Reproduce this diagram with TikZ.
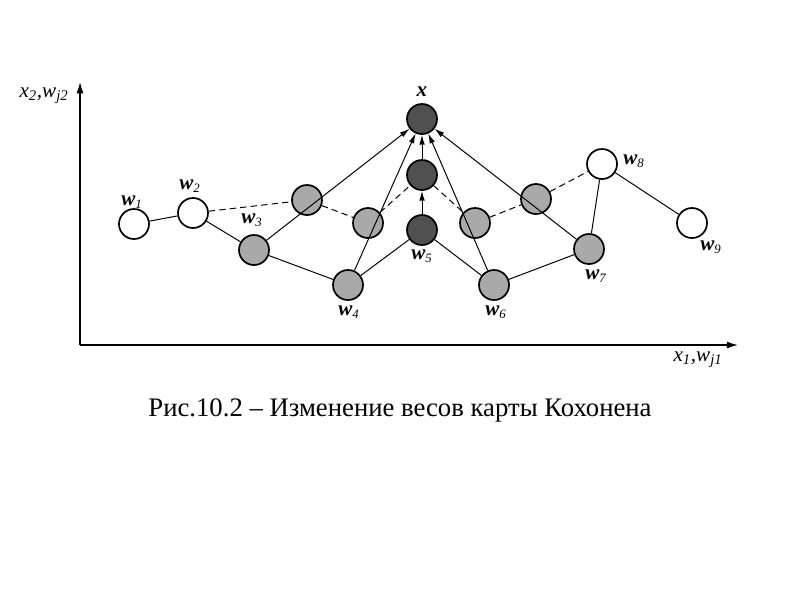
\documentclass[tikz,border=0pt]{standalone}
\usepackage{fontspec}
\setmainfont{Liberation Serif}
\usepackage{xcolor}
\usetikzlibrary{arrows.meta, positioning, calc}

\definecolor{wgrey}{HTML}{A9A9A9}
\definecolor{wdark}{HTML}{505050}
\newcommand{\wlab}[1]{{\fontsize{15}{17}\selectfont\bfseries\itshape w}\textsubscript{\itshape #1}}

\begin{document}
\begin{tikzpicture}[x=0.025cm, y=-0.025cm,
  every node/.style={font=\fontsize{13}{15}\selectfont},
  N/.style={circle,draw,line width=1.2pt,minimum size=0.75cm,inner sep=0pt},
  W/.style={N,fill=white},
  G/.style={N,fill=wgrey},
  D/.style={N,fill=wdark},
  link/.style={line width=0.7pt},
  move/.style={line width=0.7pt,dash pattern=on 4.5pt off 3pt},
  pull/.style={line width=0.7pt,-{Latex[length=7pt,width=4pt]}}]
  \useasboundingbox (0,0) rectangle (800,600);
  % axes
  \coordinate (O) at (80,345);
  \coordinate (xend) at (738,345);
  \coordinate (yend) at (80,82);
  \draw[line width=0.9pt,-{Latex[length=8pt,width=5pt]}] (O) -- (xend);
  \draw[line width=0.9pt,-{Latex[length=8pt,width=5pt]}] (O) -- (yend);
  \node (xlab) at (698,360) {\fontsize{15}{17}\selectfont\itshape x\textsubscript{1},w\textsubscript{j1}};
  \node (ylab) at (44,96) {\fontsize{15}{17}\selectfont\itshape x\textsubscript{2},w\textsubscript{j2}};
  % input vector
  \node[D] (x) at (422,119) {};
  \node (lx) at (422,92) {\fontsize{15}{17}\selectfont\bfseries\itshape x};
  % neurons before learning
  \node[W] (w1) at (134,224) {};
  \node[W] (w2) at (193,213) {};
  \node[G] (w3) at (254,250) {};
  \node[G] (w4) at (348,285) {};
  \node[D] (w5) at (422,230) {};
  \node[G] (w6) at (494,285) {};
  \node[G] (w7) at (589,249) {};
  \node[W] (w8) at (602,164) {};
  \node[W] (w9) at (692,223) {};
  % neurons after learning
  \node[G] (n3) at (307,200) {};
  \node[G] (n4) at (368,223) {};
  \node[D] (n5) at (422,175) {};
  \node[G] (n6) at (475,223) {};
  \node[G] (n7) at (536,199) {};
  % labels
  \node (l1) at (132,202) {\wlab{1}};
  \node (l2) at (190,186) {\wlab{2}};
  \node (l3) at (252,220) {\wlab{3}};
  \node (l4) at (349,312) {\wlab{4}};
  \node (l5) at (422,256) {\wlab{5}};
  \node (l6) at (496,312) {\wlab{6}};
  \node (l7) at (596,276) {\wlab{7}};
  \node (l8) at (634,161) {\wlab{8}};
  \node (l9) at (711,247) {\wlab{9}};
  % old chain
  \draw[link] (w1) -- (w2) -- (w3) -- (w4) -- (w5) -- (w6) -- (w7) -- (w8) -- (w9);
  % new chain
  \draw[move] (w2) -- (n3) -- (n4) -- (n5) -- (n6) -- (n7) -- (w8);
  % pull towards x
  \draw[pull] (w3) -- (x);
  \draw[pull] (w4) -- (x);
  \draw[pull] (w5) -- (n5);
  \draw[pull] (n5) -- (x);
  \draw[pull] (w6) -- (x);
  \draw[pull] (w7) -- (x);
  % caption
  \node (cap) at (400,410) {\fontsize{19}{22}\selectfont Рис.10.2 – Изменение весов карты Кохонена};
\end{tikzpicture}
\end{document}
